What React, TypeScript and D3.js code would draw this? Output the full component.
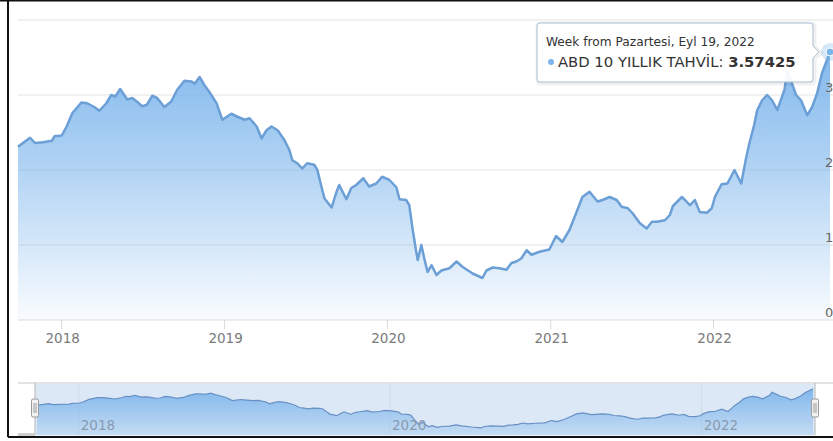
import React from 'react';
import * as d3 from 'd3';

const dates: string[] = [
  '2017-09-25','2017-10-06','2017-10-22','2017-11-02','2017-11-20','2017-12-10','2017-12-16',
  '2018-01-01','2018-01-12','2018-01-25','2018-02-14','2018-02-27','2018-03-15','2018-03-26',
  '2018-04-11','2018-04-22','2018-05-01','2018-05-12','2018-05-21','2018-05-28','2018-06-08',
  '2018-06-19','2018-06-30','2018-07-11','2018-07-23','2018-08-03','2018-08-19','2018-09-03',
  '2018-09-17','2018-10-03','2018-10-19','2018-10-26','2018-11-06','2018-11-17','2018-11-28',
  '2018-12-14','2018-12-27','2019-01-16','2019-01-30','2019-02-15','2019-02-26','2019-03-14',
  '2019-03-25','2019-04-05','2019-04-16','2019-04-30','2019-05-15','2019-05-26','2019-06-02',
  '2019-06-13','2019-06-24','2019-07-05','2019-07-21','2019-07-28','2019-08-06','2019-08-13',
  '2019-08-29','2019-09-09','2019-09-15','2019-10-01','2019-10-12','2019-10-23','2019-11-08',
  '2019-11-21','2019-12-07','2019-12-20','2020-01-05','2020-01-21','2020-01-28','2020-02-12',
  '2020-02-19','2020-02-26','2020-03-05','2020-03-09','2020-03-17','2020-03-24','2020-03-31',
  '2020-04-09','2020-04-20','2020-05-01','2020-05-19','2020-06-04','2020-06-17','2020-07-10',
  '2020-08-01','2020-08-10','2020-08-24','2020-09-08','2020-09-24','2020-10-05','2020-10-16',
  '2020-10-27','2020-11-08','2020-11-19','2020-12-07','2020-12-29','2021-01-13','2021-01-27',
  '2021-02-12','2021-02-28','2021-03-13','2021-03-29','2021-04-16','2021-04-27','2021-05-13',
  '2021-05-29','2021-06-09','2021-06-23','2021-07-04','2021-07-20','2021-08-04','2021-08-16',
  '2021-08-27','2021-09-14','2021-09-25','2021-10-02','2021-10-22','2021-10-29','2021-11-09',
  '2021-11-20','2021-12-01','2021-12-17','2021-12-28','2022-01-04','2022-01-19','2022-02-01',
  '2022-02-17','2022-03-04','2022-03-15','2022-03-22','2022-04-02','2022-04-09','2022-04-20',
  '2022-05-01','2022-05-12','2022-05-24','2022-06-09','2022-06-15','2022-06-24','2022-07-05',
  '2022-07-16','2022-07-30','2022-08-10','2022-08-21','2022-09-01','2022-09-19'
];

const yields: number[] = [
  2.31,2.36,2.43,2.36,2.37,2.39,2.45,
  2.46,2.58,2.76,2.90,2.89,2.84,2.79,
  2.89,3.00,2.98,3.08,3.00,2.94,2.96,
  2.91,2.85,2.87,2.99,2.96,2.84,2.91,
  3.07,3.19,3.18,3.15,3.24,3.13,3.04,
  2.89,2.67,2.75,2.71,2.67,2.69,2.58,
  2.42,2.53,2.58,2.53,2.40,2.27,2.13,
  2.09,2.02,2.09,2.07,2.00,1.78,1.62,
  1.50,1.71,1.80,1.61,1.76,1.80,1.89,
  1.78,1.82,1.91,1.87,1.77,1.61,1.60,
  1.53,1.23,0.93,0.80,1.00,0.81,0.64,
  0.73,0.60,0.66,0.69,0.78,0.71,0.62,
  0.56,0.66,0.70,0.69,0.67,0.76,0.78,
  0.82,0.93,0.87,0.91,0.94,1.12,1.04,
  1.20,1.44,1.64,1.71,1.58,1.60,1.64,
  1.60,1.51,1.49,1.42,1.29,1.22,1.31,
  1.31,1.33,1.40,1.52,1.64,1.60,1.53,
  1.60,1.44,1.43,1.49,1.64,1.81,1.82,
  2.00,1.82,2.16,2.35,2.60,2.80,2.93,
  3.00,2.93,2.80,3.07,3.31,3.18,3.00,
  2.93,2.73,2.84,3.02,3.29,3.57425
];

const yGridValues: number[] = [0, 1, 2, 3, 4];
const yLabelValues: number[] = [0, 1, 2, 3];
const xTickYears: number[] = [2018, 2019, 2020, 2021, 2022];
const navTickYears: number[] = [2018, 2020, 2022];
const tooltipTitle = 'Week from Pazartesi, Eyl 19, 2022';
const seriesName = 'ABD 10 YILLIK TAHVİL';
const lastValueText = '3.57425';

const parse = d3.timeParse('%Y-%m-%d');
type Pt = { date: Date; v: number };
const data: Pt[] = dates.map((d, i) => ({ date: parse(d) as Date, v: yields[i] }));

const W = 833;
const H = 441;
const FONT = '"DejaVu Sans", Verdana, sans-serif';
const BLUE = '#7cb5ec';
const LINE = '#6b9fd6';

export default function App() {
  const domain = d3.extent(data, d => d.date) as [Date, Date];
  const x = d3.scaleTime().domain(domain).range([18, 830]);
  const y = d3.scaleLinear().domain([0, 4]).range([320, 20]);
  const nx = d3.scaleTime().domain(domain).range([37, 813]);
  const ny = d3.scaleLinear().domain([0, 4]).range([435, 383.4]);

  const area = d3.area<Pt>().x(d => x(d.date)).y0(y(0)).y1(d => y(d.v));
  const line = d3.line<Pt>().x(d => x(d.date)).y(d => y(d.v));
  const navArea = d3.area<Pt>().x(d => nx(d.date)).y0(ny(0)).y1(d => ny(d.v));
  const navLine = d3.line<Pt>().x(d => nx(d.date)).y(d => ny(d.v));

  const last = data[data.length - 1];
  const px = x(last.date);
  const py = y(last.v);

  const tx0 = 537, tx1 = 813, ty0 = 23, ty1 = 82, r = 3;
  const tipY = py;
  const tooltipPath = `M${tx0 + r},${ty0} H${tx1 - r} Q${tx1},${ty0} ${tx1},${ty0 + r} V${tipY - 6} L${tx1 + 6},${tipY} L${tx1},${tipY + 6} V${ty1 - r} Q${tx1},${ty1} ${tx1 - r},${ty1} H${tx0 + r} Q${tx0},${ty1} ${tx0},${ty1 - r} V${ty0 + r} Q${tx0},${ty0} ${tx0 + r},${ty0} Z`;

  return (
    <svg width={W} height={H} style={{ position: 'absolute', left: 0, top: 0, background: '#fff' }} fontFamily={FONT}>
      <defs>
        <linearGradient id="mainFill" gradientUnits="userSpaceOnUse" x1="0" y1={py} x2="0" y2={y(0)}>
          <stop offset="0" stopColor={BLUE} stopOpacity={0.95} />
          <stop offset="0.45" stopColor={BLUE} stopOpacity={0.58} />
          <stop offset="1" stopColor={BLUE} stopOpacity={0.05} />
        </linearGradient>
        <linearGradient id="navFill" gradientUnits="userSpaceOnUse" x1="0" y1={ny(3.6)} x2="0" y2={ny(0)}>
          <stop offset="0" stopColor={BLUE} stopOpacity={0.95} />
          <stop offset="1" stopColor={BLUE} stopOpacity={0.25} />
        </linearGradient>
      </defs>

      <rect x={0} y={0} width={W} height={H} fill="#fff" />

      {/* horizontal gridlines */}
      {yGridValues.filter(v => v > 0).map(v => (
        <line key={v} x1={18} x2={W} y1={y(v)} y2={y(v)} stroke="#e3e3e3" strokeWidth={1} />
      ))}

      {/* main area and line */}
      <path d={area(data) || ''} fill="url(#mainFill)" />
      <path d={line(data) || ''} fill="none" stroke={LINE} strokeWidth={2.5} strokeLinejoin="round" />

      {/* x axis */}
      <line x1={18} x2={W} y1={y(0)} y2={y(0)} stroke="#dadada" strokeWidth={1} />
      {xTickYears.map(yr => {
        const tx = x(new Date(yr, 0, 1));
        return (
          <g key={yr}>
            <line x1={tx} x2={tx} y1={y(0)} y2={y(0) + 9} stroke="#dadada" />
            <text x={tx + 1} y={343} textAnchor="middle" fontSize={13.5} fill="#7a7a7a">{yr}</text>
          </g>
        );
      })}

      {/* y labels (right side) */}
      {yLabelValues.map(v => (
        <text key={v} x={825} y={y(v) - 3} fontSize={13} fill="#666">{v}</text>
      ))}

      {/* navigator */}
      <line x1={18} x2={W} y1={383} y2={383} stroke="#c8c8c8" strokeWidth={1} />
      <rect x={35} y={383.5} width={780} height={52} fill="#dce8f5" />
      {navTickYears.map(yr => {
        const gx = nx(new Date(yr, 0, 1));
        return <line key={yr} x1={gx} x2={gx} y1={383.5} y2={435} stroke="#cfdbe9" strokeWidth={1} />;
      })}
      <path d={navArea(data) || ''} fill="url(#navFill)" />
      <path d={navLine(data) || ''} fill="none" stroke="#6890c4" strokeWidth={1.2} />
      {navTickYears.map(yr => {
        const gx = nx(new Date(yr, 0, 1));
        return <text key={yr} x={gx + 2} y={430} fontSize={13.5} fill="#8a9aae">{yr}</text>;
      })}
      <line x1={35} x2={35} y1={383} y2={435} stroke="#b5b5b5" />
      <line x1={815} x2={815} y1={383} y2={435} stroke="#b5b5b5" />
      {[35, 815].map(hx => (
        <g key={hx}>
          <rect x={hx - 3.5} y={399} width={7} height={18} rx={1.5} fill="#f2f2f2" stroke="#9a9a9a" />
          <line x1={hx - 1} x2={hx - 1} y1={403} y2={413} stroke="#9a9a9a" />
          <line x1={hx + 1} x2={hx + 1} y1={403} y2={413} stroke="#9a9a9a" />
        </g>
      ))}
      <rect x={18} y={433} width={17} height={3} fill="#d0d0d0" />

      {/* hover marker */}
      <circle cx={px} cy={py} r={9} fill={BLUE} fillOpacity={0.3} />
      <circle cx={px} cy={py} r={4} fill={BLUE} stroke="#fff" strokeWidth={1} />

      {/* tooltip */}
      <path d={tooltipPath} fill="none" stroke="#000" strokeOpacity={0.06} strokeWidth={5} transform="translate(1,1)" />
      <path d={tooltipPath} fill="#fff" fillOpacity={0.92} stroke="#a9bfd6" strokeWidth={1} />
      <text x={546} y={46} fontSize={12.2} fill="#333">{tooltipTitle}</text>
      <circle cx={551} cy={62} r={3} fill={BLUE} />
      <text x={558} y={67} fontSize={14.8} fill="#333">
        {seriesName}: <tspan fontWeight="bold">{lastValueText}</tspan>
      </text>

      {/* screenshot frame */}
      <line x1={0} x2={W} y1={0.5} y2={0.5} stroke="#111" strokeWidth={2} />
      <line x1={8} x2={8} y1={0} y2={437} stroke="#111" strokeWidth={2} />
      <line x1={8} x2={W} y1={437} y2={437} stroke="#111" strokeWidth={2} />
    </svg>
  );
}
